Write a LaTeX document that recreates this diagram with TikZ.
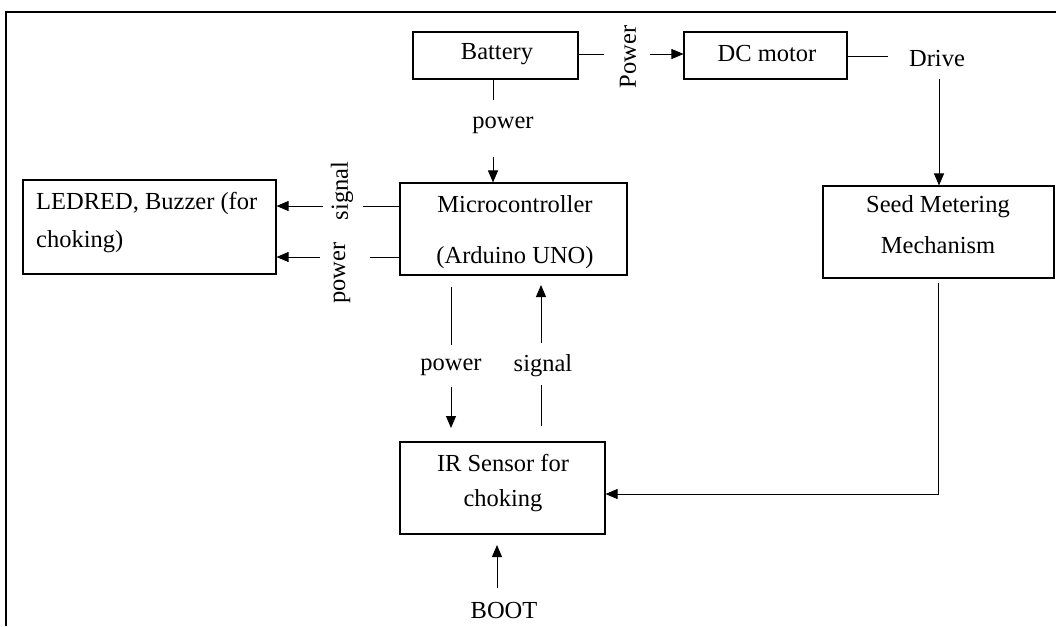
\documentclass[tikz,border=0pt]{standalone}
\usepackage{fontspec}
\setmainfont{Liberation Serif}
\usetikzlibrary{arrows.meta}
\tikzset{
  box/.style={draw, line width=1.1pt, inner sep=0pt},
  txt/.style={inner sep=0pt, font=\fontsize{24.5}{29}\selectfont},
  conn/.style={line width=0.9pt},
  arr/.style={line width=0.9pt, -{Triangle[length=12pt,width=10pt]}},
}
\begin{document}
\begin{tikzpicture}[x=1pt,y=-1pt]
\useasboundingbox (0,0) rectangle (1056,626);
\draw[line width=2.2pt] (6,626) -- (6,12) -- (1056,12);

% boxes
\node[box, minimum width=165pt, minimum height=47pt] (battery) at (495.5,55.5) {};
\node[box, minimum width=163pt, minimum height=47pt] (dc) at (765.5,55.5) {};
\node[box, minimum width=227pt, minimum height=92pt] (micro) at (513.5,229) {};
\node[box, minimum width=253pt, minimum height=94pt] (led) at (149.5,227) {};
\node[box, minimum width=231pt, minimum height=92pt] (seed) at (938.5,232) {};
\node[box, minimum width=205pt, minimum height=92pt] (ir) at (502.5,488) {};

% box texts
\node[txt] (batteryT) at (497,54) {Battery};
\node[txt] (dcT) at (767,54) {DC motor};
\node[txt] (microT1) at (515,204) {Microcontroller};
\node[txt] (microT2) at (515,258) {(Arduino UNO)};
\node[txt, anchor=west] (ledT1) at (36,203) {LEDRED, Buzzer (for};
\node[txt, anchor=west] (ledT2) at (36,242) {choking)};
\node[txt] (seedT1) at (938,207) {Seed Metering};
\node[txt] (seedT2) at (938,245) {Mechanism};
\node[txt] (irT1) at (503,463) {IR Sensor for};
\node[txt] (irT2) at (503,501) {choking};

% labels
\node[txt, rotate=90] (lPower) at (628,57) {Power};
\node[txt] (lDrive) at (937,59) {Drive};
\node[txt] (lPowerB) at (503,125) {power};
\node[txt, rotate=90] (lSignalL) at (342,191) {signal};
\node[txt, rotate=90] (lPowerL) at (342,273) {power};
\node[txt] (lPowerM) at (451,367) {power};
\node[txt] (lSignalM) at (543,366) {signal};
\node[txt] (lBoot) at (504,610) {BOOT};

% free ends
\coordinate (p1) at (604,54);
\coordinate (p2) at (650,54);
\coordinate (p3) at (888,56);
\coordinate (p4) at (939,79);
\coordinate (p5) at (493,100);
\coordinate (p6) at (493,157);
\coordinate (p7) at (363,206);
\coordinate (p8) at (323,206);
\coordinate (p9) at (370,257);
\coordinate (p10) at (320,257);
\coordinate (p11) at (451,287);
\coordinate (p12) at (451,345);
\coordinate (p13) at (451,387);
\coordinate (p14) at (451,428);
\coordinate (p15) at (541,426);
\coordinate (p16) at (541,385);
\coordinate (p17) at (541,343);
\coordinate (p18) at (541,285);
\coordinate (p19) at (938.5,494);
\coordinate (p20) at (497,588);
\coordinate (p21) at (497,545);

% connectors
\draw[conn] (battery.east |- p1) -- (p1);
\draw[arr] (p2) -- (dc.west |- p2);
\draw[conn] (dc.east |- p3) -- (p3);
\draw[arr] (p4) -- (seed.north -| p4);
\draw[conn] (battery.south -| p5) -- (p5);
\draw[arr] (p6) -- (micro.north -| p6);
\draw[conn] (micro.west |- p7) -- (p7);
\draw[arr] (p8) -- (led.east |- p8);
\draw[conn] (micro.west |- p9) -- (p9);
\draw[arr] (p10) -- (led.east |- p10);
\draw[conn] (p11) -- (p12);
\draw[arr] (p13) -- (p14);
\draw[conn] (p15) -- (p16);
\draw[arr] (p17) -- (p18);
\draw[arr] ([yshift=-4pt]seed.south) -- (p19) -- (ir.east |- p19);
\draw[arr] (p20) -- (p21);
\end{tikzpicture}
\end{document}
